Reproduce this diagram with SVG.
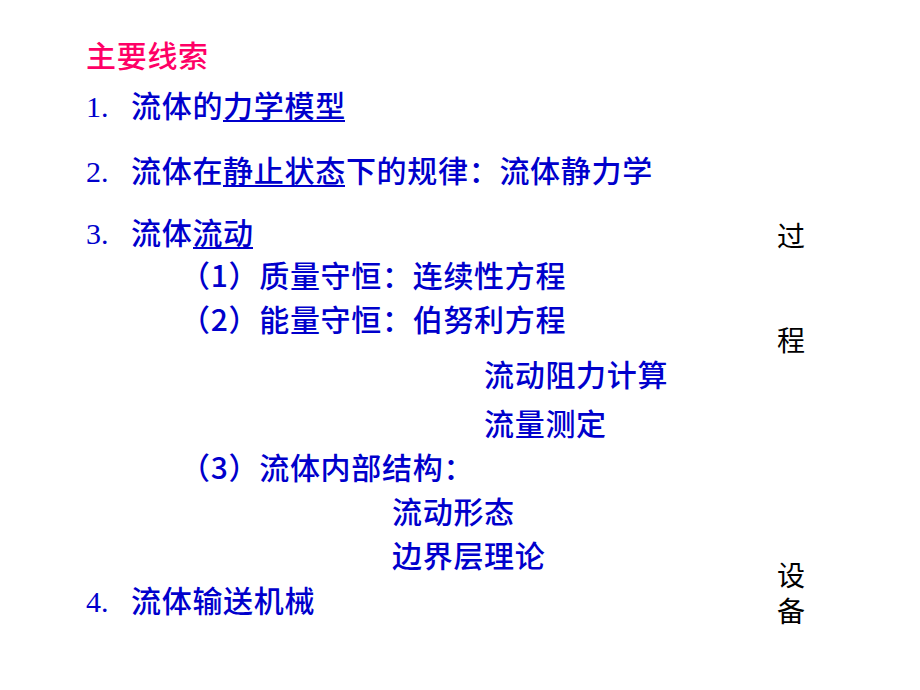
<svg xmlns="http://www.w3.org/2000/svg" width="920" height="690" viewBox="0 0 920 690">
<style>
text{font-family:"Noto Sans CJK SC","Liberation Sans",sans-serif;font-size:30px;font-weight:500;letter-spacing:0.7px;fill:#0000CC}
.n{font-family:"Liberation Serif",serif;font-weight:normal;letter-spacing:0}
.t{fill:#FF0066}
.k{fill:#000;font-size:28px;font-weight:normal}
line{stroke:#0000CC;stroke-width:2}
</style>
<rect width="920" height="690" fill="#fff"/>
<g id="title"><text class="t" x="86" y="67">主要线索</text></g>
<g id="l1"><text x="86" y="117"><tspan class="n">1.</tspan><tspan x="131">流体的力学模型</tspan></text><line x1="223" y1="121" x2="345" y2="121"/></g>
<g id="l2"><text x="86" y="182"><tspan class="n">2.</tspan><tspan x="131">流体在静止状态下的规律：流体静力学</tspan></text><line x1="223" y1="186" x2="345" y2="186"/></g>
<g id="l3"><text x="86" y="244"><tspan class="n">3.</tspan><tspan x="131">流体流动</tspan></text><line x1="193" y1="248" x2="253" y2="248"/></g>
<g id="l31"><text x="180" y="287">（1）质量守恒：连续性方程</text></g>
<g id="l32"><text x="180" y="331">（2）能量守恒：伯努利方程</text></g>
<g id="l321"><text x="484" y="386">流动阻力计算</text></g>
<g id="l322"><text x="484" y="435">流量测定</text></g>
<g id="l33"><text x="180" y="479">（3）流体内部结构：</text></g>
<g id="l331"><text x="392" y="523">流动形态</text></g>
<g id="l332"><text x="392" y="567">边界层理论</text></g>
<g id="l4"><text x="86" y="612"><tspan class="n">4.</tspan><tspan x="131">流体输送机械</tspan></text></g>
<g id="side"><text class="k" x="777" y="247">过</text><text class="k" x="777" y="351">程</text><text class="k" x="777" y="586">设</text><text class="k" x="777" y="622">备</text></g>
</svg>
